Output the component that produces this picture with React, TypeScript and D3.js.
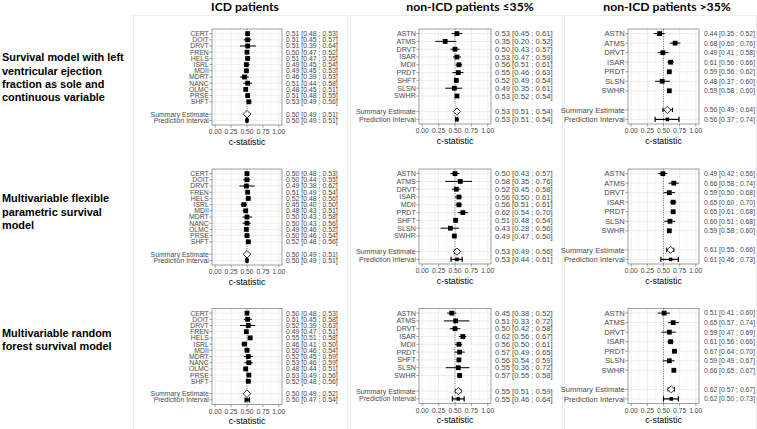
import React from 'react';
import * as d3 from 'd3';

// ---------- data ----------
const icdStudies = ['CERT', 'DOIT', 'DRVT', 'FREN', 'HELS', 'ISRL', 'MDII', 'MDRT', 'NANC', 'OLMC', 'PRSE', 'SHFT'];
const lowStudies = ['ASTN', 'ATMS', 'DRVT', 'ISAR', 'MDII', 'PRDT', 'SHFT', 'SLSN', 'SWHR'];
const highStudies = ['ASTN', 'ATMS', 'DRVT', 'ISAR', 'PRDT', 'SLSN', 'SWHR'];
const pooledLabels = ['Summary Estimate', 'Prediction Interval'];
const xTicks = [0, 0.25, 0.5, 0.75, 1];
const xMinor = [0.125, 0.375, 0.625, 0.875];
const columnTitles = ['ICD patients', 'non-ICD patients ≤35%', 'non-ICD patients >35%'];
const modelTitles = [
  ['Survival model with left', 'ventricular ejection', 'fraction as sole and', 'continuous variable'],
  ['Multivariable flexible', 'parametric survival', 'model'],
  ['Multivariable random', 'forest survival model'],
];

// [estimate, lower, upper]; the last two rows are summary estimate and prediction interval
const lvefIcd = [
  [0.51, 0.48, 0.53], [0.51, 0.45, 0.57], [0.51, 0.39, 0.64], [0.50, 0.47, 0.52],
  [0.51, 0.47, 0.55], [0.49, 0.45, 0.54], [0.49, 0.45, 0.53], [0.46, 0.39, 0.53],
  [0.51, 0.44, 0.58], [0.48, 0.45, 0.51], [0.51, 0.48, 0.55], [0.53, 0.49, 0.56],
  [0.50, 0.49, 0.51], [0.50, 0.49, 0.51],
];
const lvefLow = [
  [0.53, 0.45, 0.61], [0.35, 0.20, 0.52], [0.50, 0.43, 0.57], [0.53, 0.47, 0.59],
  [0.56, 0.51, 0.61], [0.55, 0.46, 0.63], [0.52, 0.49, 0.54], [0.49, 0.35, 0.61],
  [0.53, 0.52, 0.54], [0.53, 0.51, 0.54], [0.53, 0.51, 0.54],
];
const lvefHigh = [
  [0.44, 0.35, 0.52], [0.68, 0.60, 0.76], [0.49, 0.41, 0.58], [0.61, 0.56, 0.66],
  [0.59, 0.56, 0.62], [0.48, 0.37, 0.60], [0.59, 0.58, 0.60],
  [0.56, 0.49, 0.64], [0.56, 0.37, 0.74],
];
const fpmIcd = [
  [0.50, 0.48, 0.53], [0.50, 0.44, 0.55], [0.49, 0.38, 0.62], [0.51, 0.49, 0.54],
  [0.52, 0.48, 0.56], [0.45, 0.40, 0.50], [0.48, 0.43, 0.51], [0.50, 0.43, 0.58],
  [0.50, 0.43, 0.56], [0.49, 0.46, 0.52], [0.50, 0.46, 0.54], [0.52, 0.48, 0.56],
  [0.50, 0.49, 0.51], [0.50, 0.49, 0.51],
];
const fpmLow = [
  [0.50, 0.43, 0.57], [0.58, 0.35, 0.76], [0.52, 0.45, 0.58], [0.56, 0.50, 0.61],
  [0.56, 0.51, 0.61], [0.62, 0.54, 0.70], [0.51, 0.48, 0.54], [0.43, 0.28, 0.56],
  [0.49, 0.47, 0.50], [0.53, 0.49, 0.56], [0.53, 0.44, 0.61],
];
const fpmHigh = [
  [0.49, 0.42, 0.56], [0.66, 0.58, 0.74], [0.59, 0.50, 0.68], [0.65, 0.60, 0.70],
  [0.65, 0.61, 0.68], [0.60, 0.51, 0.68], [0.59, 0.58, 0.60],
  [0.61, 0.55, 0.66], [0.61, 0.46, 0.73],
];
const rsfIcd = [
  [0.50, 0.48, 0.53], [0.51, 0.45, 0.58], [0.52, 0.39, 0.63], [0.49, 0.47, 0.51],
  [0.55, 0.51, 0.58], [0.46, 0.41, 0.50], [0.50, 0.46, 0.54], [0.52, 0.45, 0.59],
  [0.53, 0.46, 0.59], [0.48, 0.44, 0.51], [0.53, 0.49, 0.56], [0.52, 0.48, 0.56],
  [0.50, 0.49, 0.52], [0.50, 0.47, 0.54],
];
const rsfLow = [
  [0.45, 0.38, 0.52], [0.51, 0.33, 0.72], [0.50, 0.42, 0.58], [0.62, 0.56, 0.67],
  [0.56, 0.50, 0.61], [0.57, 0.49, 0.65], [0.56, 0.54, 0.59], [0.55, 0.36, 0.72],
  [0.57, 0.55, 0.58], [0.55, 0.51, 0.59], [0.55, 0.46, 0.64],
];
const rsfHigh = [
  [0.51, 0.41, 0.60], [0.65, 0.57, 0.74], [0.59, 0.47, 0.69], [0.61, 0.56, 0.66],
  [0.67, 0.64, 0.70], [0.59, 0.49, 0.67], [0.66, 0.65, 0.67],
  [0.62, 0.57, 0.67], [0.62, 0.50, 0.73],
];

// ---------- layout ----------
const W = 757;
const H = 429;
const cols = [
  { left: 212, right: 282, bottom: 125, valueX: 286, font: 6.9, valueFont: 6.9, studies: icdStudies, titleX: 245, diamond: 3.8 },
  { left: 419, right: 491, bottom: 124, valueX: 495, font: 7.1, valueFont: 7.7, studies: lowStudies, titleX: 470, diamond: 3.6 },
  { left: 628, right: 699, bottom: 124, valueX: 704, font: 7.6, valueFont: 6.8, studies: highStudies, titleX: 667, diamond: 3.6 },
];
const rowOffsets = [0, 140, 279.5];
const plotTop = 29;
const panelData = [
  [lvefIcd, lvefLow, lvefHigh],
  [fpmIcd, fpmLow, fpmHigh],
  [rsfIcd, rsfLow, rsfHigh],
];
const modelTitleY = [[61, 74.5, 87.5, 101], [202, 215.5, 229], [336.5, 350]];
const fmt = d3.format('.2f');
const textGrey = '#4a4a4a';

function Panel({ col, off, data }: { col: any; off: number; data: number[][] }) {
  const top = plotTop + off;
  const bottom = col.bottom + off;
  const labels: string[] = [...col.studies, '', ...pooledLabels];
  const n = labels.length;
  const x = d3.scaleLinear().domain([-0.05, 1.05]).range([col.left, col.right]);
  const y = d3.scaleLinear().domain([1, n]).range([top + 4.6, bottom - 4.6]);
  const rows = data.map((d, i) => {
    const pos = i < col.studies.length ? i + 1 : i + 2;
    return { d, pos, label: labels[pos - 1], kind: i < col.studies.length ? 'study' : i === col.studies.length ? 'summary' : 'pred' };
  });
  const sq = 4.8;
  return (
    <g>
      <rect x={col.left} y={top} width={col.right - col.left} height={bottom - top} fill="#fff" />
      {xMinor.map((t) => (
        <line key={'m' + t} x1={x(t)} x2={x(t)} y1={top} y2={bottom} stroke="#f3f3f3" strokeWidth={0.5} />
      ))}
      {xTicks.map((t) => (
        <line key={'g' + t} x1={x(t)} x2={x(t)} y1={top} y2={bottom} stroke="#e6e6e6" strokeWidth={0.7} />
      ))}
      {rows.map((r) => (
        <line key={'h' + r.pos} x1={col.left} x2={col.right} y1={y(r.pos)} y2={y(r.pos)} stroke="#e6e6e6" strokeWidth={0.7} />
      ))}
      <line x1={x(0.5)} x2={x(0.5)} y1={top} y2={bottom} stroke="#444" strokeWidth={0.7} strokeDasharray="1,1.4" />
      {rows.map((r) => {
        const [e, lo, hi] = r.d;
        const yy = y(r.pos);
        if (r.kind === 'study') {
          return (
            <g key={'s' + r.pos}>
              <line x1={x(lo)} x2={x(hi)} y1={yy} y2={yy} stroke="#000" strokeWidth={1} />
              <rect x={x(e) - sq / 2} y={yy - sq / 2} width={sq} height={sq} fill="#000" />
            </g>
          );
        }
        if (r.kind === 'summary') {
          const dr = col.diamond;
          return (
            <g key={'s' + r.pos}>
              <line x1={x(lo)} x2={x(hi)} y1={yy} y2={yy} stroke="#000" strokeWidth={1} />
              <line x1={x(lo)} x2={x(lo)} y1={yy - 2.2} y2={yy + 2.2} stroke="#000" strokeWidth={1} />
              <line x1={x(hi)} x2={x(hi)} y1={yy - 2.2} y2={yy + 2.2} stroke="#000" strokeWidth={1} />
              <path d={`M${x(e) - dr},${yy}L${x(e)},${yy - dr}L${x(e) + dr},${yy}L${x(e)},${yy + dr}Z`} fill="#fff" stroke="#000" strokeWidth={0.8} />
            </g>
          );
        }
        return (
          <g key={'s' + r.pos}>
            <line x1={x(lo)} x2={x(hi)} y1={yy} y2={yy} stroke="#000" strokeWidth={1.2} />
            <line x1={x(lo)} x2={x(lo)} y1={yy - 2.6} y2={yy + 2.6} stroke="#000" strokeWidth={1.2} />
            <line x1={x(hi)} x2={x(hi)} y1={yy - 2.6} y2={yy + 2.6} stroke="#000" strokeWidth={1.2} />
            <rect x={x(e) - 1.8} y={yy - 1.8} width={3.6} height={3.6} fill="#000" />
          </g>
        );
      })}
      <rect x={col.left} y={top} width={col.right - col.left} height={bottom - top} fill="none" stroke="#777" strokeWidth={0.7} />
      {rows.map((r) => (
        <g key={'t' + r.pos}>
          <line x1={col.left - 2.6} x2={col.left} y1={y(r.pos)} y2={y(r.pos)} stroke="#666" strokeWidth={0.6} />
          <text x={col.left - 3.2} y={y(r.pos)} dy="0.35em" textAnchor="end" fontSize={col.font} fill={textGrey}>
            {r.label}
          </text>
          <text x={col.valueX} y={y(r.pos)} dy="0.35em" fontSize={col.valueFont} fill={textGrey}>
            {`${fmt(r.d[0])} [${fmt(r.d[1])} ; ${fmt(r.d[2])}]`}
          </text>
        </g>
      ))}
      {xTicks.map((t) => (
        <g key={'x' + t}>
          <line x1={x(t)} x2={x(t)} y1={bottom} y2={bottom + 2.6} stroke="#666" strokeWidth={0.6} />
          <text x={x(t)} y={bottom + 9.2} textAnchor="middle" fontSize={6.7} fill={textGrey}>
            {fmt(t)}
          </text>
        </g>
      ))}
      <text x={(col.left + col.right) / 2} y={bottom + 19.5} textAnchor="middle" fontSize={8.8} fill="#000">
        c-statistic
      </text>
    </g>
  );
}

export default function App() {
  return (
    <svg
      width={W}
      height={H}
      viewBox={`0 0 ${W} ${H}`}
      style={{ position: 'absolute', left: 0, top: 0, display: 'block', background: '#fff' }}
      fontFamily="'Liberation Sans', Arial, sans-serif"
    >
      <rect x={0} y={0} width={W} height={H} fill="#fff" />
      <rect x={133.5} y={15.5} width={214} height={414} fill="none" stroke="#ececec" strokeWidth={1} />
      <rect x={350.5} y={15.5} width={212} height={414} fill="none" stroke="#ececec" strokeWidth={1} />
      <rect x={564.5} y={15.5} width={192} height={414} fill="none" stroke="#ececec" strokeWidth={1} />
      {columnTitles.map((t, i) => (
        <text key={t} x={cols[i].titleX} y={10.5} textAnchor="middle" fontFamily="Lato, 'Liberation Sans', sans-serif" fontWeight="bold" fontSize={12.2} fill="#000">
          {t}
        </text>
      ))}
      {modelTitles.map((lines, r) =>
        lines.map((l, k) => (
          <text key={r + '-' + k} x={2} y={modelTitleY[r][k]} fontWeight="bold" fontSize={10.9} fill="#000">
            {l}
          </text>
        ))
      )}
      {rowOffsets.map((off, r) =>
        cols.map((c, ci) => <Panel key={r + '-' + ci} col={c} off={off} data={panelData[r][ci]} />)
      )}
    </svg>
  );
}
